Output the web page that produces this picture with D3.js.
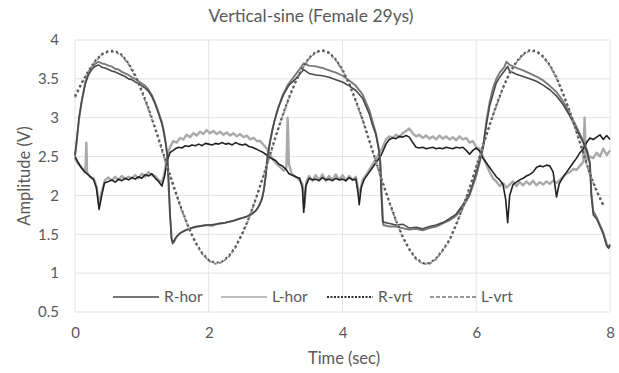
<!DOCTYPE html>
<meta charset="utf-8">
<style>
body { margin: 0; background: #fff; }
svg text { font-family: Lato, "Noto Sans", sans-serif; fill: #595959; }
.grid line { stroke: #e3e3e3; stroke-width: 1; }
</style>
<svg width="619" height="373"></svg>
<script src="https://d3js.org/d3.v7.min.js"></script>
<script>

// sine targets, sampled every 0.1 s
var vrtTime = d3.range(0, 80).map(function(i) { return i / 10; });

var rVrt = [3.28,3.45,3.60,3.73,3.82,3.86,3.86,3.81,3.70,3.55,
            3.35,3.12,2.87,2.60,2.32,2.06,1.81,1.59,1.40,1.26,
            1.17,1.13,1.15,1.22,1.34,1.51,1.71,1.95,2.21,2.48,
            2.76,3.02,3.26,3.47,3.64,3.77,3.85,3.87,3.84,3.75,
            3.62,3.44,3.22,2.98,2.71,2.44,2.17,1.92,1.68,1.47,
            1.31,1.19,1.13,1.13,1.19,1.30,1.43,1.63,1.85,2.10,
            2.37,2.64,2.91,3.16,3.39,3.58,3.72,3.82,3.87,3.86,
            3.79,3.68,3.52,3.31,3.08,2.82,2.55,2.28,2.06,1.88];

var lVrt = [3.26,3.44,3.59,3.72,3.81,3.85,3.85,3.80,3.69,3.53,
            3.33,3.10,2.85,2.58,2.30,2.04,1.80,1.58,1.39,1.25,
            1.16,1.12,1.14,1.21,1.33,1.50,1.70,1.94,2.20,2.47,
            2.75,3.01,3.25,3.46,3.63,3.76,3.84,3.86,3.83,3.74,
            3.61,3.43,3.21,2.97,2.70,2.43,2.16,1.91,1.67,1.46,
            1.30,1.18,1.12,1.12,1.18,1.29,1.42,1.62,1.84,2.09,
            2.36,2.63,2.90,3.15,3.38,3.57,3.71,3.81,3.86,3.85,
            3.78,3.67,3.51,3.30,3.07,2.81,2.54,2.27,2.05,1.87];

// measured traces, [time, volts]
var rSwing = [[0,2.52],[0.03,2.75],[0.06,3.0],[0.1,3.22],[0.15,3.42],[0.2,3.55],[0.25,3.62],[0.3,3.66],[0.35,3.68],
  [0.4,3.65],[0.45,3.64],[0.5,3.62],[0.55,3.6],[0.6,3.59],[0.65,3.57],[0.7,3.55],[0.75,3.53],[0.8,3.5],[0.85,3.49],
  [0.9,3.46],[0.95,3.44],[1.0,3.41],[1.05,3.38],[1.1,3.34],[1.15,3.27],[1.2,3.17],[1.25,3.05],[1.3,2.92],[1.33,2.8],
  [1.36,2.65],[1.38,2.52],[1.4,2.2],[1.42,1.8],[1.44,1.45],[1.46,1.38],[1.5,1.45],[1.55,1.5],[1.6,1.53],[1.7,1.57],
  [1.8,1.6],[1.9,1.61],[2.0,1.62],[2.1,1.63],[2.2,1.64],[2.3,1.66],[2.4,1.68],[2.5,1.71],[2.6,1.74],[2.7,1.8],
  [2.75,1.86],[2.8,1.96],[2.83,2.1],[2.86,2.3],[2.88,2.5],[2.92,2.7],[2.98,2.95],[3.05,3.15],[3.12,3.3],[3.2,3.42],
  [3.3,3.5],[3.38,3.58],[3.42,3.62],[3.5,3.57],[3.6,3.55],[3.7,3.54],[3.8,3.52],[3.9,3.49],[4.0,3.46],[4.1,3.41],
  [4.2,3.35],[4.3,3.25],[4.4,3.05],[4.45,2.9],[4.5,2.78],[4.54,2.6],[4.56,2.45],[4.58,2.0],[4.6,1.66],[4.7,1.64],
  [4.8,1.62],[4.9,1.63],[5.0,1.58],[5.1,1.59],[5.2,1.57],[5.3,1.6],[5.4,1.62],[5.5,1.65],[5.6,1.7],[5.7,1.76],
  [5.8,1.88],[5.9,2.02],[6.0,2.3],[6.05,2.45],[6.1,2.62],[6.15,2.9],[6.2,3.15],[6.25,3.3],[6.3,3.45],[6.35,3.52],
  [6.42,3.6],[6.47,3.66],[6.5,3.6],[6.6,3.56],[6.7,3.53],[6.8,3.5],[6.9,3.47],[7.0,3.42],[7.1,3.36],[7.2,3.28],
  [7.3,3.17],[7.4,3.02],[7.5,2.85],[7.6,2.68],[7.66,2.55],[7.7,2.4],[7.72,2.0],[7.75,1.75],[7.8,1.7],[7.85,1.6],
  [7.9,1.5],[7.95,1.35],[7.98,1.32],[8.0,1.36]];

var lSwing = [[0,2.5],[0.03,2.72],[0.06,2.98],[0.1,3.2],[0.15,3.44],[0.2,3.58],[0.25,3.65],[0.3,3.69],[0.35,3.72],
  [0.4,3.7],[0.45,3.69],[0.5,3.67],[0.55,3.66],[0.6,3.63],[0.65,3.62],[0.7,3.59],[0.75,3.57],[0.8,3.55],[0.85,3.52],
  [0.9,3.5],[0.95,3.47],[1.0,3.44],[1.05,3.41],[1.1,3.36],[1.15,3.29],[1.2,3.19],[1.25,3.07],[1.3,2.94],[1.33,2.82],
  [1.36,2.66],[1.38,2.5],[1.4,2.1],[1.42,1.75],[1.45,1.42],[1.48,1.4],[1.52,1.47],[1.58,1.52],[1.65,1.55],[1.75,1.58],
  [1.85,1.6],[1.95,1.62],[2.05,1.61],[2.15,1.64],[2.25,1.65],[2.35,1.67],[2.45,1.7],[2.55,1.72],[2.65,1.76],[2.72,1.82],
  [2.78,1.92],[2.82,2.05],[2.85,2.25],[2.87,2.45],[2.9,2.62],[2.95,2.85],[3.02,3.08],[3.1,3.28],[3.18,3.42],[3.25,3.5],
  [3.32,3.58],[3.38,3.65],[3.42,3.7],[3.5,3.67],[3.6,3.66],[3.7,3.64],[3.8,3.61],[3.9,3.58],[4.0,3.54],[4.1,3.48],
  [4.2,3.41],[4.3,3.3],[4.4,3.1],[4.45,2.95],[4.5,2.8],[4.54,2.62],[4.57,2.4],[4.59,1.95],[4.61,1.62],[4.7,1.6],
  [4.8,1.6],[4.9,1.58],[5.0,1.56],[5.1,1.57],[5.2,1.55],[5.3,1.58],[5.4,1.6],[5.5,1.64],[5.6,1.68],[5.7,1.74],
  [5.8,1.85],[5.9,2.0],[6.0,2.25],[6.05,2.42],[6.1,2.6],[6.15,2.95],[6.2,3.2],[6.25,3.38],[6.3,3.5],[6.35,3.58],
  [6.42,3.65],[6.45,3.72],[6.5,3.68],[6.6,3.64],[6.7,3.61],[6.8,3.57],[6.9,3.53],[7.0,3.48],[7.1,3.41],[7.2,3.33],
  [7.3,3.21],[7.4,3.05],[7.5,2.88],[7.6,2.7],[7.66,2.58],[7.7,2.42],[7.72,2.05],[7.75,1.8],[7.8,1.72],[7.85,1.62],
  [7.9,1.52],[7.95,1.38],[7.98,1.33],[8.0,1.37]];

var rHor = [[0,2.5],[0.05,2.42],[0.1,2.35],[0.15,2.3],[0.22,2.25],[0.28,2.2],[0.32,2.1],[0.36,1.82],[0.4,2.0],
  [0.44,2.16],[0.5,2.18],[0.55,2.2],[0.6,2.17],[0.65,2.21],[0.7,2.19],[0.75,2.22],[0.8,2.2],[0.85,2.23],[0.9,2.21],
  [0.95,2.24],[1.0,2.22],[1.05,2.27],[1.1,2.25],[1.15,2.28],[1.2,2.22],[1.25,2.18],[1.3,2.12],[1.34,2.25],[1.38,2.45],
  [1.42,2.55],[1.5,2.6],[1.55,2.62],[1.6,2.61],[1.65,2.64],[1.7,2.63],[1.75,2.65],[1.8,2.64],[1.85,2.66],[1.9,2.64],
  [1.95,2.67],[2.0,2.66],[2.05,2.65],[2.1,2.67],[2.15,2.66],[2.2,2.68],[2.25,2.66],[2.3,2.67],[2.35,2.65],[2.4,2.68],
  [2.45,2.66],[2.5,2.65],[2.55,2.66],[2.6,2.63],[2.65,2.62],[2.7,2.6],[2.75,2.58],[2.8,2.56],[2.85,2.53],[2.9,2.5],
  [2.95,2.47],[3.0,2.45],[3.05,2.4],[3.1,2.38],[3.15,2.34],[3.2,2.28],[3.25,2.26],[3.3,2.24],[3.36,2.22],[3.4,2.1],
  [3.42,1.78],[3.45,2.12],[3.5,2.22],[3.55,2.2],[3.6,2.21],[3.65,2.19],[3.7,2.23],[3.75,2.2],[3.8,2.21],[3.85,2.19],
  [3.9,2.22],[3.95,2.2],[4.0,2.21],[4.05,2.19],[4.1,2.23],[4.15,2.2],[4.2,2.21],[4.23,2.05],[4.25,1.88],[4.28,2.1],
  [4.32,2.2],[4.4,2.3],[4.5,2.42],[4.58,2.52],[4.65,2.66],[4.7,2.72],[4.75,2.74],[4.8,2.73],[4.85,2.76],[4.9,2.75],
  [4.95,2.77],[5.0,2.75],[5.05,2.68],[5.1,2.62],[5.15,2.61],[5.2,2.62],[5.25,2.6],[5.3,2.61],[5.35,2.62],[5.4,2.6],
  [5.45,2.61],[5.5,2.6],[5.55,2.62],[5.6,2.61],[5.65,2.6],[5.7,2.62],[5.75,2.61],[5.8,2.62],[5.85,2.58],[5.9,2.53],
  [5.95,2.58],[6.0,2.61],[6.05,2.57],[6.1,2.48],[6.15,2.42],[6.2,2.36],[6.25,2.3],[6.3,2.24],[6.35,2.2],[6.4,2.14],
  [6.44,1.95],[6.47,1.65],[6.5,2.0],[6.55,2.14],[6.6,2.17],[6.65,2.2],[6.7,2.22],[6.75,2.25],[6.8,2.27],[6.85,2.3],
  [6.9,2.36],[6.95,2.38],[7.0,2.37],[7.05,2.39],[7.1,2.38],[7.15,2.3],[7.2,1.98],[7.24,2.15],[7.3,2.24],[7.35,2.3],
  [7.4,2.36],[7.45,2.42],[7.5,2.48],[7.55,2.55],[7.6,2.6],[7.65,2.68],[7.7,2.74],[7.75,2.72],[7.8,2.75],[7.85,2.78],
  [7.9,2.72],[7.95,2.77],[8.0,2.72]];

var lHor = [[0,2.48],[0.05,2.4],[0.1,2.36],[0.15,2.3],[0.16,2.42],[0.17,2.68],[0.18,2.3],[0.22,2.24],[0.28,2.22],
  [0.32,2.12],[0.36,1.9],[0.4,2.05],[0.45,2.2],[0.5,2.23],[0.55,2.19],[0.6,2.24],[0.65,2.2],[0.7,2.25],[0.75,2.21],
  [0.8,2.24],[0.85,2.22],[0.9,2.26],[0.95,2.22],[1.0,2.28],[1.05,2.24],[1.1,2.3],[1.15,2.26],[1.2,2.25],[1.25,2.2],
  [1.3,2.16],[1.34,2.3],[1.38,2.5],[1.42,2.62],[1.47,2.7],[1.52,2.68],[1.57,2.74],[1.62,2.72],[1.67,2.78],[1.72,2.75],
  [1.77,2.8],[1.82,2.77],[1.87,2.82],[1.92,2.79],[1.97,2.84],[2.02,2.8],[2.07,2.83],[2.12,2.79],[2.17,2.82],[2.22,2.78],
  [2.27,2.81],[2.32,2.77],[2.37,2.8],[2.42,2.76],[2.47,2.79],[2.52,2.75],[2.57,2.77],[2.62,2.72],[2.67,2.74],[2.72,2.7],
  [2.77,2.7],[2.82,2.65],[2.87,2.6],[2.92,2.52],[2.97,2.45],[3.02,2.4],[3.07,2.36],[3.12,2.32],[3.16,2.35],[3.18,3.0],
  [3.2,2.4],[3.24,2.28],[3.3,2.24],[3.35,2.2],[3.4,2.15],[3.43,1.85],[3.46,2.18],[3.5,2.25],[3.55,2.19],[3.6,2.26],
  [3.65,2.2],[3.7,2.27],[3.75,2.19],[3.8,2.25],[3.85,2.2],[3.9,2.27],[3.95,2.2],[4.0,2.26],[4.05,2.19],[4.1,2.25],
  [4.15,2.2],[4.2,2.24],[4.25,2.0],[4.3,2.2],[4.38,2.3],[4.45,2.4],[4.52,2.5],[4.6,2.62],[4.65,2.72],[4.7,2.76],
  [4.75,2.74],[4.8,2.78],[4.85,2.75],[4.9,2.8],[4.95,2.83],[5.0,2.86],[5.05,2.8],[5.1,2.76],[5.15,2.78],[5.2,2.74],
  [5.25,2.77],[5.3,2.73],[5.35,2.76],[5.4,2.72],[5.45,2.77],[5.5,2.73],[5.55,2.76],[5.6,2.72],[5.65,2.75],[5.7,2.71],
  [5.75,2.76],[5.8,2.72],[5.85,2.74],[5.9,2.68],[5.95,2.7],[6.0,2.62],[6.05,2.6],[6.1,2.5],[6.15,2.4],[6.2,2.3],
  [6.25,2.22],[6.3,2.18],[6.35,2.12],[6.4,2.16],[6.45,2.1],[6.5,2.14],[6.55,2.18],[6.6,2.12],[6.65,2.17],[6.7,2.13],
  [6.75,2.18],[6.8,2.14],[6.85,2.19],[6.9,2.13],[6.95,2.17],[7.0,2.14],[7.05,2.18],[7.1,2.15],[7.15,2.19],[7.2,2.16],
  [7.25,2.2],[7.3,2.24],[7.35,2.28],[7.4,2.3],[7.45,2.34],[7.5,2.33],[7.55,2.38],[7.6,2.43],[7.62,3.0],[7.64,2.45],
  [7.7,2.5],[7.75,2.48],[7.8,2.55],[7.85,2.5],[7.9,2.6],[7.95,2.52],[8.0,2.58]];

var xTicks = [0, 2, 4, 6, 8];
var yTicks = [0.5, 1, 1.5, 2, 2.5, 3, 3.5, 4];
var legendNames = ["R-hor", "L-hor", "R-vrt", "L-vrt"];

var svg = d3.select("svg");
var margin = {top: 40, right: 9, bottom: 61, left: 75};
var width = 619 - margin.left - margin.right,
    height = 373 - margin.top - margin.bottom;

var x = d3.scaleLinear().domain([0, 8]).range([0, width]);
var y = d3.scaleLinear().domain([0.5, 4]).range([height, 0]);

var g = svg.append("g")
    .attr("transform", "translate(" + margin.left + "," + margin.top + ")");

// gridlines
var grid = g.append("g").attr("class", "grid");
grid.selectAll(".h").data(yTicks).enter().append("line")
    .attr("x1", 0).attr("x2", width)
    .attr("y1", function(d) { return y(d); })
    .attr("y2", function(d) { return y(d); });
grid.selectAll(".v").data(xTicks).enter().append("line")
    .attr("y1", 0).attr("y2", height)
    .attr("x1", function(d) { return x(d); })
    .attr("x2", function(d) { return x(d); });

// tick labels through the axis generators, no domain/tick lines
g.append("g")
    .call(d3.axisLeft(y).tickValues(yTicks).tickSize(0).tickPadding(16).tickFormat(d3.format("")))
    .call(function(a) { a.select(".domain").remove(); })
    .selectAll("text").attr("font-size", 15).style("font-family", null);

g.append("g")
    .attr("transform", "translate(0," + height + ")")
    .call(d3.axisBottom(x).tickValues(xTicks).tickSize(0).tickPadding(15))
    .call(function(a) { a.select(".domain").remove(); })
    .selectAll("text").attr("font-size", 15).style("font-family", null);

var line = d3.line()
    .x(function(d) { return x(d[0]); })
    .y(function(d) { return y(d[1]); });

var vrtPairs = function(vals) {
  return vals.map(function(v, i) { return [vrtTime[i], v]; });
};

var series = [
  {data: lHor, stroke: "#a9a9a9", w: 2.4, dash: null},
  {data: rHor, stroke: "#222", w: 1.6, dash: null},
  {data: lSwing, stroke: "#7a7a7a", w: 1.9, dash: null},
  {data: rSwing, stroke: "#4a4a4a", w: 1.6, dash: null},
  {data: vrtPairs(lVrt), stroke: "#8c8c8c", w: 2, dash: "3,2.5"},
  {data: vrtPairs(rVrt), stroke: "#555", w: 2.2, dash: "2,3"}
];

g.selectAll(".series").data(series).enter().append("path")
    .attr("class", "series")
    .attr("fill", "none")
    .attr("stroke", function(d) { return d.stroke; })
    .attr("stroke-width", function(d) { return d.w; })
    .attr("stroke-dasharray", function(d) { return d.dash; })
    .attr("stroke-linejoin", "round")
    .attr("d", function(d) { return line(d.data); });

// legend inside the plot, bottom row
var legendStyle = [
  {stroke: "#4a4a4a", w: 1.5, dash: null},
  {stroke: "#a9a9a9", w: 1.5, dash: null},
  {stroke: "#333", w: 2, dash: "2,1.5"},
  {stroke: "#777", w: 1.5, dash: "4,2"}
];
var legendX = [113, 221, 327, 430];

var legend = svg.append("g").selectAll("g")
    .data(legendNames).enter().append("g")
    .attr("transform", function(d, i) { return "translate(" + legendX[i] + ",297)"; });

legend.append("line")
    .attr("x1", 0).attr("x2", 46)
    .attr("stroke", function(d, i) { return legendStyle[i].stroke; })
    .attr("stroke-width", function(d, i) { return legendStyle[i].w; })
    .attr("stroke-dasharray", function(d, i) { return legendStyle[i].dash; });

legend.append("text")
    .attr("x", 51)
    .attr("dy", "0.35em")
    .attr("font-size", 15.5)
    .text(function(d) { return d; });

// titles
svg.append("text")
    .attr("x", 311).attr("y", 22)
    .attr("text-anchor", "middle")
    .attr("font-size", 17.5)
    .text("Vertical-sine (Female 29ys)");

svg.append("text")
    .attr("x", 344).attr("y", 364)
    .attr("text-anchor", "middle")
    .attr("font-size", 16.5)
    .text("Time (sec)");

svg.append("text")
    .attr("transform", "rotate(-90)")
    .attr("x", -176).attr("y", 30)
    .attr("text-anchor", "middle")
    .attr("font-size", 16.5)
    .text("Amplitude (V)");

</script>
